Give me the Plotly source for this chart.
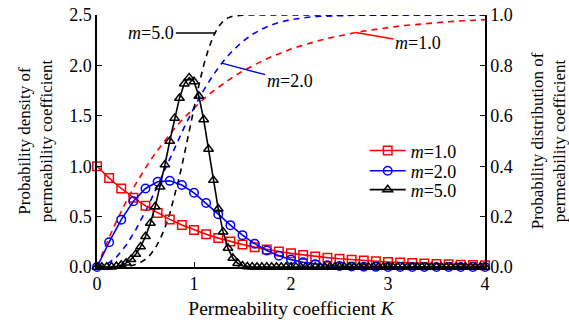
import plotly.graph_objects as go

# ---- data ----
K_pdf = [i * 0.125 for i in range(33)]
pdf_m1 = [1.0, 0.8825, 0.7788, 0.6873, 0.6065, 0.5353, 0.4724, 0.4169, 0.3679, 0.3247,
          0.2865, 0.2528, 0.2231, 0.1969, 0.1738, 0.1534, 0.1353, 0.1194, 0.1054, 0.0930,
          0.0821, 0.0724, 0.0639, 0.0564, 0.0498, 0.0439, 0.0388, 0.0342, 0.0302, 0.0267,
          0.0235, 0.0208, 0.0183]
pdf_m2 = [0.0, 0.2461, 0.4697, 0.6516, 0.7788, 0.8459, 0.8547, 0.8139, 0.7358, 0.6347,
          0.5240, 0.4152, 0.3162, 0.2318, 0.1637, 0.1115, 0.0733, 0.0465, 0.0285, 0.0169,
          0.0097, 0.0053, 0.0029, 0.0015, 0.0007, 0.0003, 0.0001, 0.0, 0.0, 0.0,
          0.0, 0.0, 0.0]

K_pdf5 = [i * 0.05 for i in range(81)]
pdf_m5 = [0.0, 0.0, 0.0005, 0.0025, 0.0080, 0.0195, 0.0404, 0.0746, 0.1267, 0.2013,
          0.3029, 0.4351, 0.5995, 0.7948, 1.0148, 1.2478, 1.4758, 1.6747, 1.8176, 1.8785,
          1.8394, 1.6960, 1.4626, 1.1702, 0.8610, 0.5770, 0.3484, 0.1875, 0.0887, 0.0364,
          0.0128, 0.0038, 0.0009, 0.0002] + [0.0] * 47

K_cdf = [i * 0.1 for i in range(41)]
cdf_m1 = [0.0, 0.0952, 0.1813, 0.2592, 0.3297, 0.3935, 0.4512, 0.5034, 0.5507, 0.5934,
          0.6321, 0.6671, 0.6988, 0.7275, 0.7534, 0.7769, 0.7981, 0.8173, 0.8347, 0.8504,
          0.8647, 0.8775, 0.8892, 0.8997, 0.9093, 0.9179, 0.9257, 0.9328, 0.9392, 0.9450,
          0.9502, 0.9550, 0.9592, 0.9631, 0.9666, 0.9698, 0.9727, 0.9753, 0.9776, 0.9798,
          0.9817]
cdf_m2 = [0.0, 0.0100, 0.0392, 0.0861, 0.1479, 0.2212, 0.3023, 0.3874, 0.4727, 0.5551,
          0.6321, 0.7018, 0.7631, 0.8155, 0.8591, 0.8946, 0.9227, 0.9444, 0.9608, 0.9730,
          0.9817, 0.9878, 0.9921, 0.9950, 0.9968, 0.9981, 0.9988, 0.9993, 0.9996, 0.9998,
          0.9999, 1.0, 1.0, 1.0, 1.0, 1.0, 1.0, 1.0, 1.0, 1.0, 1.0]

K_cdf5 = [i * 0.05 for i in range(41)] + [2.5, 3.0, 3.5, 4.0]
cdf_m5 = [0.0, 0.0, 0.00001, 0.00008, 0.00032, 0.00098, 0.00243, 0.00524, 0.01019, 0.01828,
          0.03076, 0.04909, 0.07481, 0.10955, 0.15471, 0.21124, 0.27939, 0.35836, 0.44594, 0.53873,
          0.63212, 0.72094, 0.80021, 0.86619, 0.91696, 0.95273, 0.97560, 0.98871, 0.99538, 0.99835,
          0.99950, 0.99987, 0.99997] + [1.0] * 12

labels = ["<i>m</i>=1.0", "<i>m</i>=2.0", "<i>m</i>=5.0"]
colors = ["#ff0000", "#0000ff", "#000000"]

FONT = "Liberation Serif"
FS = 18

fig = go.Figure()

# CDF curves (dashed) on right axis (y)
for xs, ys, c in [(K_cdf, cdf_m1, colors[0]), (K_cdf, cdf_m2, colors[1]), (K_cdf5, cdf_m5, colors[2])]:
    fig.add_trace(go.Scatter(x=xs, y=ys, mode="lines", yaxis="y", showlegend=False, hoverinfo="skip",
                             line=dict(color=c, width=1.6, dash="6px,5px"), cliponaxis=False))

# PDF curves (markers) on left axis (y2), one legend per item for exact spacing
legs = ["legend", "legend2", "legend3"]
for xs, ys, c, sym, lab, lg in [(K_pdf, pdf_m1, colors[0], "square-open", labels[0], legs[0]),
                                (K_pdf, pdf_m2, colors[1], "circle-open", labels[1], legs[1]),
                                (K_pdf5, pdf_m5, colors[2], "triangle-up-open", labels[2], legs[2])]:
    fig.add_trace(go.Scatter(x=xs, y=ys, mode="lines+markers", yaxis="y2", name=lab, legend=lg,
                             line=dict(color=c, width=1.6),
                             marker=dict(symbol=sym, size=8.5, color=c, line=dict(width=1.5, color=c)),
                             cliponaxis=False))

axis_common = dict(showgrid=False, zeroline=False, showline=True, linecolor="black", linewidth=1.5,
                   ticks="inside", ticklen=5, tickwidth=1.2, tickcolor="black",
                   tickfont=dict(family=FONT, size=FS, color="black"))

leg_common = dict(xanchor="left", yanchor="middle", bgcolor="rgba(0,0,0,0)",
                  font=dict(family=FONT, size=FS), itemwidth=36)
# legend item centres in paper coords (plot area 15..267 px)
leg_y = [0.461, 0.381, 0.306]

fig.update_layout(
    width=569, height=327,
    margin=dict(l=97, r=84, t=15, b=60, autoexpand=False),
    plot_bgcolor="white", paper_bgcolor="white",
    font=dict(family=FONT, size=FS, color="black"),
    xaxis=dict(range=[0, 4], dtick=1, tickformat="d",
               title=dict(text="Permeability coefficient <i>K</i>", font=dict(family=FONT, size=19.5), standoff=8),
               **axis_common),
    yaxis=dict(range=[0, 1.0], dtick=0.2, tickformat=".1f", side="right",
               title=dict(text="Probability distribution of<br>permeability coefficient",
                          font=dict(family=FONT, size=FS - 1), standoff=22),
               **axis_common),
    yaxis2=dict(range=[0, 2.5], dtick=0.5, tickformat=".1f", side="left", overlaying="y",
                title=dict(text="Probability density of<br>permeability coefficient",
                           font=dict(family=FONT, size=FS - 1), standoff=12),
                **axis_common),
    legend=dict(x=0.69, y=leg_y[0], **leg_common),
    legend2=dict(x=0.69, y=leg_y[1], **leg_common),
    legend3=dict(x=0.69, y=leg_y[2], **leg_common),
    showlegend=True,
)

ann_font = dict(family=FONT, size=FS, color="black")
fig.add_annotation(x=1.22, y=0.929, xref="x", yref="y", text="<i>m</i>=5.0", showarrow=True,
                   arrowhead=0, arrowwidth=1.5, arrowcolor="black", ax=-64, ay=0, font=ann_font)
fig.add_annotation(x=1.286, y=0.809, xref="x", yref="y", text="<i>m</i>=2.0", showarrow=True,
                   arrowhead=0, arrowwidth=1.5, arrowcolor="#0000ff", ax=68, ay=18, font=ann_font)
fig.add_annotation(x=2.67, y=0.931, xref="x", yref="y", text="<i>m</i>=1.0", showarrow=True,
                   arrowhead=0, arrowwidth=1.5, arrowcolor="#ff0000", ax=62, ay=11, font=ann_font)

fig.write_html("out.html", config={"displayModeBar": False},
               post_script="document.body.style.margin='0';")
